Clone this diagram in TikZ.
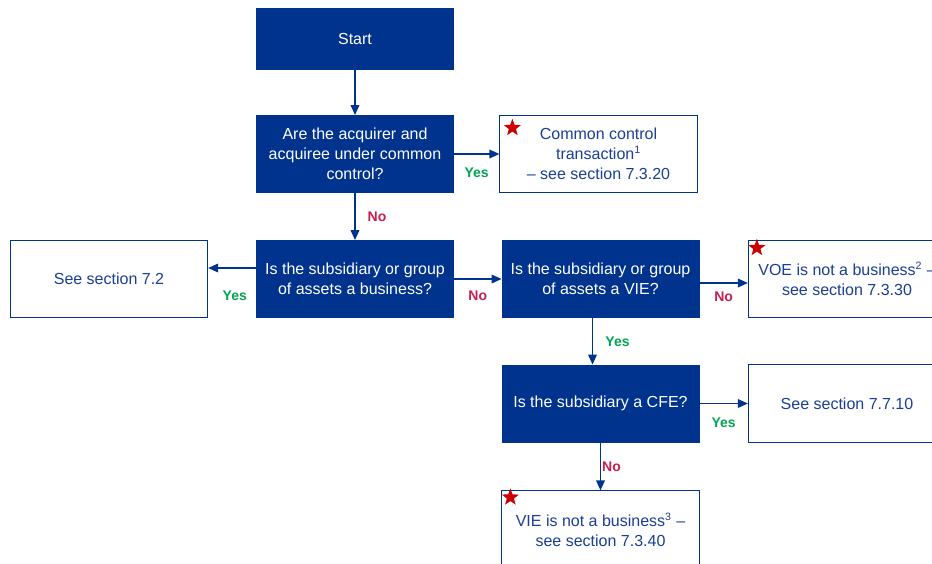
\documentclass[tikz,border=0pt]{standalone}
\usepackage{fontspec}
\setmainfont{Liberation Sans}
\usetikzlibrary{shapes.geometric,calc,arrows.meta}
\definecolor{navy}{HTML}{00338D}
\definecolor{boxtext}{HTML}{1A3F95}
\definecolor{yesgreen}{HTML}{00A651}
\definecolor{nored}{HTML}{C81E50}
\definecolor{starred}{HTML}{CC0000}
\begin{document}
\begin{tikzpicture}[x=0.75pt,y=-0.75pt,
  qbox/.style={fill=navy, draw=navy, text=white, minimum width=148pt, minimum height=58pt,
    align=center, inner sep=0pt, font=\fontsize{12}{15}\selectfont},
  rbox/.style={fill=white, draw=navy, line width=0.7pt, text=boxtext, minimum width=148pt,
    minimum height=58pt, align=center, inner sep=0pt, font=\fontsize{12}{15}\selectfont},
  arr/.style={draw=navy, line width=1pt, -{Triangle[length=7.5pt,width=6.5pt]}},
  yeslbl/.style={text=yesgreen, font=\fontsize{10.5}{12}\selectfont\bfseries, inner sep=0pt},
  nolbl/.style={text=nored, font=\fontsize{10.5}{12}\selectfont\bfseries, inner sep=0pt},
  redstar/.style={star, star points=5, star point ratio=2.4, fill=starred, draw=none,
    minimum size=13.5pt, inner sep=0pt}]
\useasboundingbox (0,0) rectangle (932,564);
\clip (0,0) rectangle (932,564);
\fill[white] (0,0) rectangle (932,564);

\node[qbox, minimum height=46pt] (start) at (355,39) {Start};
\node[qbox] (q1) at (355,154) {Are the acquirer and\\acquiree under common\\control?};
\node[rbox] (cc) at (598.5,154) {Common control\\transaction\textsuperscript{1}\\– see section 7.3.20};
\node[qbox] (q2) at (355,279) {Is the subsidiary or group\\of assets a business?};
\node[rbox] (see72) at (109,279) {See section 7.2};
\node[qbox] (q3) at (600.5,279) {Is the subsidiary or group\\of assets a VIE?};
\node[rbox] (voe) at (847,279) {VOE is not a business\textsuperscript{2} –\\see section 7.3.30};
\node[qbox] (q4) at (600.5,403.5) {Is the subsidiary a CFE?};
\node[rbox] (s7710) at (847,403.5) {See section 7.7.10};
\node[rbox] (vie) at (600.5,529.5) {VIE is not a business\textsuperscript{3} –\\see section 7.3.40};

\node[redstar] (st1) at ($(cc.north west)+(13,13)$) {};
\node[redstar] (st2) at ($(voe.north west)+(9,8)$) {};
\node[redstar] (st3) at ($(vie.north west)+(9,7)$) {};

\draw[arr] (start.south) -- (q1.north);
\draw[arr] (q1.east) -- (cc.west)
  node[yeslbl, midway, yshift=-14pt] {Yes};
\draw[arr] (q1.south) -- (q2.north)
  node[nolbl, midway, xshift=16.5pt] {No};
\draw[arr] ($(q2.west)+(0,-11)$) -- ($(see72.east)+(0,-11)$)
  node[yeslbl, midway, xshift=2pt, yshift=-21pt] {Yes};
\draw[arr] (q2.east) -- (q3.west)
  node[nolbl, midway, yshift=-12.75pt] {No};
\draw[arr] ($(q3.east)+(0,4)$) -- ($(voe.west)+(0,4)$)
  node[nolbl, midway, yshift=-10.5pt] {No};
\draw[arr] ($(q3.south)+(-8,0)$) -- ($(q4.north)+(-8,0)$)
  node[yeslbl, midway, xshift=18.75pt] {Yes};
\draw[arr] (q4.east) -- (s7710.west)
  node[yeslbl, midway, yshift=-14.25pt] {Yes};
\draw[arr] (q4.south) -- (vie.north)
  node[nolbl, midway, xshift=8.25pt] {No};
\end{tikzpicture}
\end{document}
